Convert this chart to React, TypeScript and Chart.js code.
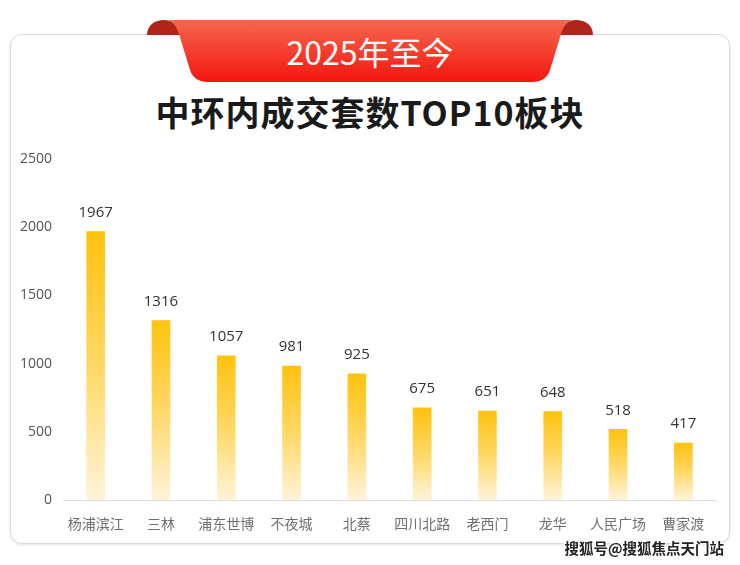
import React, { useEffect, useRef } from "react";
import { Chart, registerables } from "chart.js";

Chart.register(...registerables);

const categories = ["杨浦滨江", "三林", "浦东世博", "不夜城", "北蔡", "四川北路", "老西门", "龙华", "人民广场", "曹家渡"];
const values = [1967, 1316, 1057, 981, 925, 675, 651, 648, 518, 417];
const yTickValues = [0, 500, 1000, 1500, 2000, 2500];
const bannerText = "2025年至今";
const titleText = "中环内成交套数TOP10板块";
const watermarkText = "搜狐号@搜狐焦点天门站";

const FONT = '"Open Sans", "Noto Sans CJK SC", sans-serif';

const valueLabelPlugin = {
  id: "valueLabels",
  afterDatasetsDraw(chart: any) {
    const ctx = chart.ctx;
    const meta = chart.getDatasetMeta(0);
    ctx.save();
    ctx.font = `15px ${FONT}`;
    ctx.fillStyle = "#333333";
    ctx.textAlign = "center";
    ctx.textBaseline = "middle";
    meta.data.forEach((el: any, i: number) => {
      ctx.fillText(String(values[i]), el.x, el.y - 19);
    });
    ctx.restore();
  },
};

function BarChart() {
  const ref = useRef<HTMLCanvasElement | null>(null);
  useEffect(() => {
    if (!ref.current) return;
    const chart = new Chart(ref.current, {
      type: "bar",
      data: {
        labels: categories,
        datasets: [
          {
            data: values,
            barThickness: 18,
            borderWidth: 0,
            backgroundColor: (c: any) => {
              const ch = c.chart;
              const area = ch.chartArea;
              if (!area || c.type !== "data") return "#FFC514";
              const v = values[c.dataIndex];
              const top = ch.scales.y.getPixelForValue(v);
              const bottom = ch.scales.y.getPixelForValue(0);
              const g = ch.ctx.createLinearGradient(0, top, 0, bottom);
              g.addColorStop(0, "#FFC20E");
              g.addColorStop(0.5, "#FFD866");
              g.addColorStop(1, "#FFF4DA");
              return g;
            },
          } as any,
        ],
      },
      options: {
        animation: false,
        responsive: true,
        maintainAspectRatio: false,
        layout: { padding: { top: 19, right: 14, left: 0, bottom: 0 } },
        plugins: {
          legend: { display: false },
          tooltip: { enabled: false },
        },
        scales: {
          x: {
            grid: { display: false },
            border: { display: true, color: "#dddddd", width: 1 },
            ticks: {
              color: "#707070",
              font: { size: 14, family: FONT },
              padding: 9,
              maxRotation: 0,
              autoSkip: false,
            },
            afterFit: (s: any) => {
              s.height = 40;
            },
          },
          y: {
            min: 0,
            max: 2500,
            grid: { display: false },
            border: { display: false },
            afterBuildTicks: (s: any) => {
              s.ticks = yTickValues.map((v) => ({ value: v }));
            },
            ticks: {
              color: "#555555",
              font: { size: 14, family: FONT },
              padding: 3,
              callback: (v: any) => String(v),
            },
            afterFit: (s: any) => {
              s.width = 53;
            },
          },
        },
      },
      plugins: [valueLabelPlugin],
    } as any);
    return () => chart.destroy();
  }, []);
  return <canvas ref={ref} />;
}

export default function App() {
  return (
    <div
      style={{
        position: "absolute",
        left: 0,
        top: 0,
        width: 740,
        height: 565,
        background: "#ffffff",
        overflow: "hidden",
        fontFamily: FONT,
      }}
    >
      <div
        style={{
          position: "absolute",
          left: 10,
          top: 34,
          width: 718,
          height: 508,
          border: "1.5px solid #d9d9d9",
          borderRadius: 12,
          boxShadow: "0 1px 3px rgba(0,0,0,0.10)",
          background: "#ffffff",
        }}
      />
      <svg
        width={740}
        height={100}
        style={{ position: "absolute", left: 0, top: 0 }}
      >
        <defs>
          <linearGradient id="rib" x1="0" y1="0" x2="0" y2="1">
            <stop offset="0" stopColor="#F6674E" />
            <stop offset="1" stopColor="#F4160F" />
          </linearGradient>
        </defs>
        <path d="M147,35 C147,25 155,20 164,20 C172,20 178,25 181,35 Z" fill="#B0241A" />
        <path d="M593,35 C593,25 585,20 576,20 C568,20 562,25 559,35 Z" fill="#B0241A" />
        <path
          d="M168,20 H572 C566,22 563,28 561,34 L550,70 Q546,82 532,82 H208 Q194,82 190,70 L179,34 C177,28 174,22 168,20 Z"
          fill="url(#rib)"
        />
        <text
          x={370}
          y={51}
          textAnchor="middle"
          dominantBaseline="central"
          fill="#ffffff"
          style={{ font: `400 32px "Noto Sans CJK SC", sans-serif` }}
        >
          {bannerText}
        </text>
      </svg>
      <div
        style={{
          position: "absolute",
          left: 0,
          top: 88,
          width: 740,
          textAlign: "center",
          fontFamily: '"Noto Sans CJK SC", sans-serif',
          fontWeight: 700,
          fontSize: 34,
          lineHeight: "48px",
          color: "#1a1a1a",
          letterSpacing: 1,
        }}
      >
        {titleText}
      </div>
      <div
        style={{
          position: "absolute",
          left: 10,
          top: 140,
          width: 720,
          height: 400,
        }}
      >
        <BarChart />
      </div>
      <div
        style={{
          position: "absolute",
          right: 16,
          top: 537,
          fontFamily: '"Noto Sans CJK SC", sans-serif',
          fontWeight: 700,
          fontSize: 14.5,
          lineHeight: "22px",
          color: "#222222",
          textShadow:
            "1px 0 0 #fff, -1px 0 0 #fff, 0 1px 0 #fff, 0 -1px 0 #fff, 1px 1px 0 #fff, -1px -1px 0 #fff, 1px -1px 0 #fff, -1px 1px 0 #fff",
        }}
      >
        {watermarkText}
      </div>
    </div>
  );
}
